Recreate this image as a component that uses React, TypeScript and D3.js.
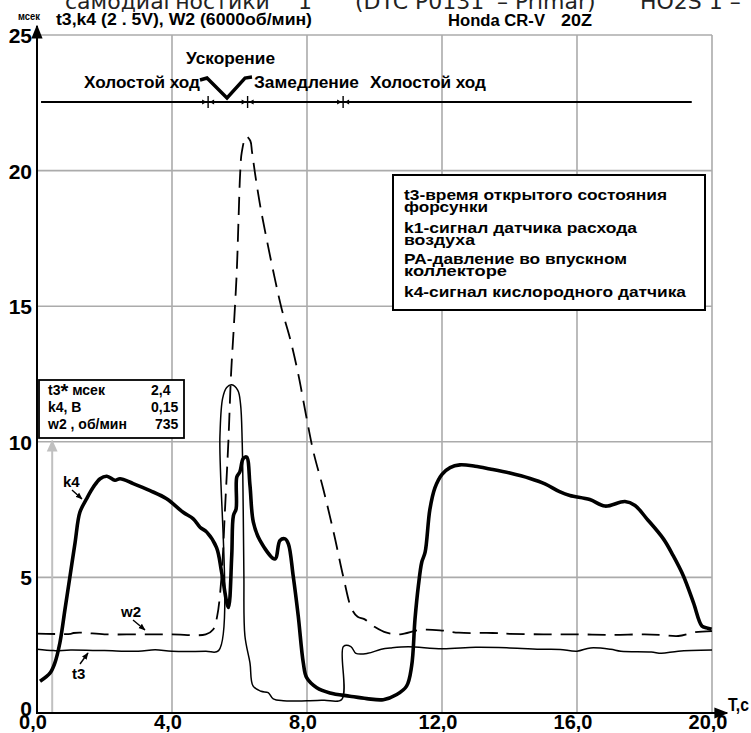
import React from 'react';
import * as d3 from 'd3';

// ---------- data ----------
const t3Time = [0, 0.5, 1.0, 2.0, 3.0, 3.5, 4.0, 5.0, 5.38, 5.42, 5.5, 5.62, 5.77, 5.95, 6.03, 6.08, 6.11, 6.13, 6.16, 6.31, 6.4, 6.64, 6.85, 7.0, 7.3, 8.0, 8.5, 9.03, 9.08, 9.3, 9.45, 9.8, 10.2, 10.5, 11.0, 12.0, 13.0, 14.0, 15.0, 15.5, 16.0, 16.4, 17.0, 17.3, 18.2, 18.5, 19.0, 20.0];
const t3Values = [2.35, 2.3, 2.32, 2.3, 2.28, 2.33, 2.28, 2.28, 2.3, 10.2, 11.6, 12.0, 12.1, 11.9, 11.4, 10.0, 7.5, 5.1, 2.85, 1.85, 1.0, 0.8, 0.75, 0.52, 0.45, 0.45, 0.47, 0.5, 2.45, 2.45, 2.2, 2.2, 2.35, 2.4, 2.44, 2.37, 2.42, 2.4, 2.35, 2.34, 2.28, 2.4, 2.35, 2.28, 2.25, 2.2, 2.28, 2.32];

const w2Time = [0, 1.0, 1.08, 1.35, 2.0, 3.0, 4.0, 5.0, 5.22, 5.34, 5.47, 5.57, 5.67, 5.75, 5.83, 5.92, 5.97, 6.02, 6.07, 6.2, 6.32, 6.37, 6.46, 6.6, 6.8, 7.05, 7.25, 7.5, 7.74, 7.99, 8.19, 8.48, 8.8, 9.08, 9.32, 9.5, 9.7, 10.0, 10.36, 10.76, 11.35, 11.94, 12.5, 13.5, 14.0, 15.0, 16.0, 17.0, 18.0, 18.5, 19.0, 19.5, 20.0];
const w2Values = [2.93, 2.92, 2.95, 2.96, 2.9, 2.9, 2.9, 2.9, 3.08, 3.58, 5.07, 7.5, 10.0, 12.5, 14.2, 16.3, 18.15, 19.9, 20.7, 21.26, 21.1, 20.7, 19.9, 18.8, 17.5, 16.0, 14.9, 13.8, 12.5, 10.86, 9.63, 8.27, 6.6, 5.0, 3.85, 3.55, 3.46, 3.18, 2.96, 2.9, 3.06, 3.05, 2.96, 2.95, 2.92, 2.9, 2.9, 2.88, 2.9, 2.88, 2.84, 2.98, 3.02];

const k4Time = [0.09, 0.39, 0.53, 0.68, 0.83, 0.98, 1.13, 1.27, 1.47, 1.67, 1.87, 2.07, 2.31, 2.46, 2.85, 3.35, 3.84, 4.33, 4.63, 4.83, 5.03, 5.32, 5.47, 5.67, 5.77, 5.82, 5.9, 5.92, 6.01, 6.11, 6.21, 6.31, 6.41, 6.61, 7.05, 7.2, 7.35, 7.45, 7.59, 7.74, 7.89, 7.99, 8.29, 8.68, 9.27, 9.77, 10.26, 10.66, 10.95, 11.1, 11.2, 11.3, 11.4, 11.5, 11.64, 11.79, 12.0, 12.24, 12.53, 12.98, 13.42, 14.01, 14.61, 15.05, 15.5, 15.79, 16.38, 16.83, 17.42, 17.72, 18.07, 18.56, 18.85, 19.15, 19.45, 19.7, 19.84, 19.99];
const k4Values = [1.17, 1.48, 1.85, 2.6, 3.83, 5.06, 6.3, 7.4, 7.9, 8.33, 8.64, 8.73, 8.58, 8.64, 8.46, 8.2, 7.9, 7.4, 7.16, 6.85, 6.67, 6.1, 5.19, 3.89, 5.8, 7.28, 7.53, 8.7, 8.89, 9.38, 9.44, 8.4, 7.04, 6.36, 5.68, 6.36, 6.42, 6.23, 5.06, 3.58, 1.85, 1.3, 0.93, 0.74, 0.62, 0.53, 0.49, 0.68, 0.99, 1.73, 3.46, 4.69, 5.56, 5.93, 7.5, 8.3, 8.8, 9.05, 9.15, 9.1, 9.0, 8.85, 8.65, 8.45, 8.15, 8.02, 7.87, 7.63, 7.8, 7.65, 7.16, 6.42, 5.8, 5.06, 4.07, 3.21, 3.14, 3.09];

const xTicks = [0, 4, 8, 12, 16, 20];
const xTickLabels = ['0,0', '4,0', '8,0', '12,0', '16,0', '20,0'];
const yTicks = [0, 5, 10, 15, 20, 25];
const yTickLabels = ['0', '5', '10', '15', '20', '25'];
const gridX = [4, 8, 12, 16, 20];
const gridY = [5, 10, 15, 20, 25];

const phaseMarks = [5.07, 6.24, 9.07];
const phaseLineRange = [0.12, 19.4];
const cursorTime = 0.45;

const legendLines = [
  't3-время открытого состояния',
  'форсунки',
  'k1-сигнал датчика расхода',
  'воздуха',
  'PA-давление во впускном',
  'коллекторе',
  'k4-сигнал кислородного датчика',
];
const legendBaselines = [200, 212, 233, 245, 264, 276, 297];
const legendWidths = [263, 84, 233, 71, 223, 103, 282];

const insetNames = ['k4, В', 'w2 , об/мин'];
const insetValues = ['2,4', '0,15', '735'];

// ---------- layout ----------
const W = 751;
const H = 733;
const narrow = "'Liberation Sans Narrow', 'Arial Narrow', 'Liberation Sans', Arial, sans-serif";
const sans = "'Liberation Sans', Arial, sans-serif";

const x = d3.scaleLinear().domain([0, 20]).range([37, 712]);
const y = d3.scaleLinear().domain([0, 25]).range([713, 35]);

const lineGen = (ts: number[], vs: number[]) =>
  d3
    .line<number>()
    .x((_, i) => x(ts[i]))
    .y((d) => y(d))
    .curve(d3.curveCatmullRom.alpha(0.5))(vs) as string;

export default function App() {
  const grid = '#ababab';
  return (
    <svg
      width={W}
      height={H}
      viewBox={`0 0 ${W} ${H}`}
      style={{ position: 'absolute', left: 0, top: 0, background: '#fff' }}
    >
      <defs>
        <marker id="arrBlack" viewBox="0 0 10 10" refX="9" refY="5" markerWidth="7" markerHeight="7" orient="auto">
          <path d="M0,1 L10,5 L0,9 Z" fill="#000" />
        </marker>
        <marker id="arrSmall" viewBox="0 0 10 10" refX="9" refY="5" markerWidth="5" markerHeight="5" orient="auto">
          <path d="M0,1 L10,5 L0,9 Z" fill="#000" />
        </marker>
        <marker id="arrGray" viewBox="0 0 10 10" refX="9" refY="5" markerWidth="6" markerHeight="6" orient="auto">
          <path d="M0,0.5 L10,5 L0,9.5 Z" fill="#c0c0c0" />
        </marker>
      </defs>
      <rect x={0} y={0} width={W} height={H} fill="#fff" />

      {/* clipped page text at top (cut off in the reference as well) */}
      <g fontFamily="'DejaVu Sans', Verdana, sans-serif" fontSize={22} fill="#222">
        <text x={65} y={9}>самодиагностики</text>
        <text x={298} y={9}>1</text>
        <text x={355} y={9}>(DTC P0131</text>
        <text x={497} y={9}>– Primar)</text>
        <text x={640} y={9}>HO2S 1 –</text>
      </g>

      {/* grid */}
      {gridX.map((t) => (
        <line key={'gx' + t} x1={x(t)} x2={x(t)} y1={y(0)} y2={y(25)} stroke={grid} strokeWidth={1.6} />
      ))}
      {gridY.map((v) => (
        <line key={'gy' + v} x1={x(0)} x2={x(20)} y1={y(v)} y2={y(v)} stroke={grid} strokeWidth={1.6} />
      ))}

      {/* cursor */}
      <line
        x1={x(cursorTime)}
        x2={x(cursorTime)}
        y1={y(0)}
        y2={y(10) - 1}
        stroke="#c0c0c0"
        strokeWidth={2}
        markerEnd="url(#arrGray)"
      />

      {/* axes */}
      <line x1={x(0)} x2={x(0)} y1={y(0) + 1} y2={26} stroke="#000" strokeWidth={2} markerEnd="url(#arrBlack)" />
      <line x1={x(0) - 1} x2={727} y1={y(0)} y2={y(0)} stroke="#000" strokeWidth={2} markerEnd="url(#arrBlack)" />

      {/* axis labels */}
      <text x={18} y={20} fontFamily={narrow} fontWeight="bold" fontSize={11} textLength={22} lengthAdjust="spacingAndGlyphs">мсек</text>
      {yTicks.map((v, i) => (
        <text
          key={'yl' + v}
          x={32}
          y={v === 0 ? y(v) + 3 : y(v) + 8}
          textAnchor="end"
          fontFamily={sans}
          fontWeight="bold"
          fontSize={21}
        >
          {yTickLabels[i]}
        </text>
      ))}
      {xTicks.map((t, i) => (
        <text key={'xl' + t} x={x(t) - 4} y={729} textAnchor="middle" fontFamily={sans} fontWeight="bold" fontSize={20}>
          {xTickLabels[i]}
        </text>
      ))}
      <text x={728} y={711} fontFamily={narrow} fontWeight="bold" fontSize={18} textLength={21} lengthAdjust="spacingAndGlyphs">T,c</text>

      {/* header */}
      <text x={56} y={25} fontFamily={narrow} fontWeight="bold" fontSize={16} textLength={256} lengthAdjust="spacingAndGlyphs">
        t3,k4 (2 . 5V), W2 (6000об/мин)
      </text>
      <text x={448} y={26} fontFamily={narrow} fontWeight="bold" fontSize={16} textLength={97} lengthAdjust="spacingAndGlyphs">
        Honda CR-V
      </text>
      <text x={561} y={26} fontFamily={narrow} fontWeight="bold" fontSize={16} textLength={31} lengthAdjust="spacingAndGlyphs">
        20Z
      </text>

      {/* phase annotation */}
      <line x1={x(phaseLineRange[0])} x2={x(phaseLineRange[1])} y1={102} y2={102} stroke="#000" strokeWidth={2} />
      {phaseMarks.map((t) => (
        <g key={'pm' + t}>
          <line x1={x(t)} x2={x(t)} y1={96} y2={108} stroke="#000" strokeWidth={1.4} />
          <path d={`M${x(t) - 6},99.5 L${x(t) - 1.5},102 L${x(t) - 6},104.5 Z`} fill="#000" />
          <path d={`M${x(t) + 6},99.5 L${x(t) + 1.5},102 L${x(t) + 6},104.5 Z`} fill="#000" />
        </g>
      ))}
      <g fontFamily={narrow} fontWeight="bold" fontSize={17}>
        <text x={84} y={88} textLength={116} lengthAdjust="spacingAndGlyphs">Холостой ход</text>
        <text x={186} y={64} textLength={89} lengthAdjust="spacingAndGlyphs">Ускорение</text>
        <text x={254} y={88} textLength={105} lengthAdjust="spacingAndGlyphs">Замедление</text>
        <text x={370} y={88} textLength={116} lengthAdjust="spacingAndGlyphs">Холостой ход</text>
      </g>
      <path d="M200,80 L207,78 L227,98 L245,78 L252,77" fill="none" stroke="#000" strokeWidth={3.4} strokeLinejoin="miter" />

      {/* legend box */}
      <rect x={393} y={175} width={312} height={135} fill="#fff" stroke="#000" strokeWidth={2} />
      {legendLines.map((s, i) => (
        <text
          key={'lg' + i}
          x={404}
          y={legendBaselines[i]}
          fontFamily={sans}
          fontWeight="bold"
          fontSize={15}
          textLength={legendWidths[i]}
          lengthAdjust="spacingAndGlyphs"
        >
          {s}
        </text>
      ))}

      {/* inset box */}
      <rect x={39} y={380} width={145} height={58} fill="#fff" stroke="#000" strokeWidth={1.8} />
      <g fontFamily={narrow} fontWeight="bold" fontSize={14}>
        <text x={48} y={395}>
          t3<tspan fontSize={20} dy={3}>*</tspan>
          <tspan dy={-3}> мсек</tspan>
        </text>
        <text x={48} y={412}>{insetNames[0]}</text>
        <text x={48} y={429}>{insetNames[1]}</text>
        <text x={151} y={395}>{insetValues[0]}</text>
        <text x={151} y={412}>{insetValues[1]}</text>
        <text x={155} y={429}>{insetValues[2]}</text>
      </g>

      {/* series */}
      <path d={lineGen(w2Time, w2Values)} fill="none" stroke="#000" strokeWidth={1.8} strokeDasharray="18,9" />
      <path d={lineGen(t3Time, t3Values)} fill="none" stroke="#000" strokeWidth={1.5} />
      <path d={lineGen(k4Time, k4Values)} fill="none" stroke="#000" strokeWidth={3.6} strokeLinejoin="round" />

      {/* series labels */}
      <g fontFamily={narrow} fontWeight="bold" fontSize={15}>
        <text x={63} y={487}>k4</text>
        <text x={121} y={617}>w2</text>
        <text x={72} y={679}>t3</text>
      </g>
      <line x1={72} y1={490} x2={82} y2={499} stroke="#000" strokeWidth={1.4} markerEnd="url(#arrSmall)" />
      <line x1={133} y1={620} x2={145} y2={630} stroke="#000" strokeWidth={1.4} markerEnd="url(#arrSmall)" />
      <line x1={80} y1={664} x2={88} y2={653} stroke="#000" strokeWidth={1.4} markerEnd="url(#arrSmall)" />
    </svg>
  );
}
